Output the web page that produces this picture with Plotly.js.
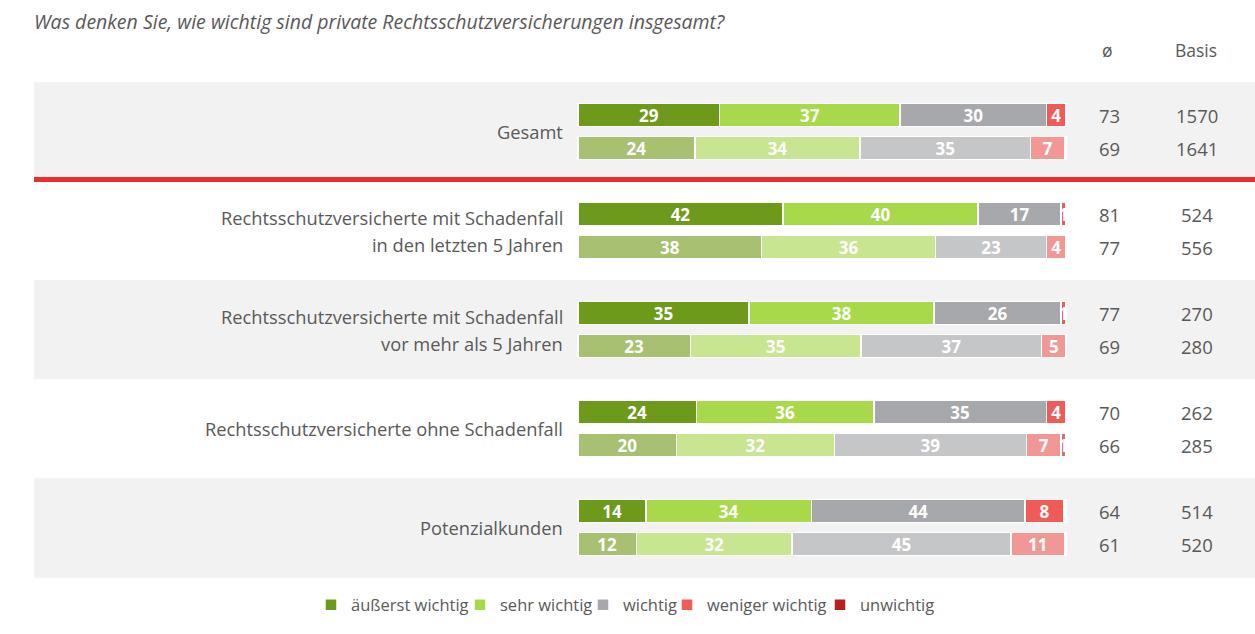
<!DOCTYPE html>
<html><head><meta charset="utf-8">
<script src="https://cdn.plot.ly/plotly-3.0.1.min.js"></script>
<style>body{margin:0;background:#fff;}#chart{width:1255px;height:634px;}</style>
</head><body><div id="chart"></div>
<script>
// ---- data ----
const titleText = "Was denken Sie, wie wichtig sind private Rechtsschutzversicherungen insgesamt?";
const groupLabels = [
  ["Gesamt"],
  ["Rechtsschutzversicherte mit Schadenfall", "in den letzten 5 Jahren"],
  ["Rechtsschutzversicherte mit Schadenfall", "vor mehr als 5 Jahren"],
  ["Rechtsschutzversicherte ohne Schadenfall"],
  ["Potenzialkunden"]
];
const seriesNames = ["äußerst wichtig", "sehr wichtig", "wichtig", "weniger wichtig", "unwichtig"];
// rows: group top, group bottom, ...
const aeusserst = [29, 24, 42, 38, 35, 23, 24, 20, 14, 12];
const sehr      = [37, 34, 40, 36, 38, 35, 36, 32, 34, 32];
const wichtig   = [30, 35, 17, 23, 26, 37, 35, 39, 44, 45];
const weniger   = [4, 7, 1, 4, 1, 5, 4, 7, 8, 11];
const unwichtig = [0, 0.3, 0, 0, 0, 0, 0, 1, 0.4, 0.3];
const avgValues = [73, 69, 81, 77, 77, 69, 70, 66, 64, 61];
const basisValues = [1570, 1641, 524, 556, 270, 280, 262, 285, 514, 520];
const headerAvg = "ø";
const headerBasis = "Basis";

// ---- styling ----
const darkColors  = ["#6e9a1c", "#a8d94b", "#a7a8ab", "#f05a57", "#b3211e"];
const lightColors = ["#a7c072", "#c8e592", "#c5c6c8", "#f19894", "#c97372"];
const textColor = "#595959";
const FONT = "'Open Sans', Lato, sans-serif";
// legend entry text starts (pixels) in the reference
const legendTextStartPx = [351, 500, 623, 707, 860];

const allSeries = [aeusserst, sehr, wichtig, weniger, unwichtig];
const nRows = aeusserst.length;
const yPos = [];
for (let i = 0; i < nRows; i++) yPos.push(Math.floor(i / 2) * 3 + (i % 2));

const legendIds = seriesNames.map((_, s) => s === 0 ? 'legend' : 'legend' + (s + 1));

const traces = allSeries.map((vals, s) => ({
  type: 'bar',
  orientation: 'h',
  name: seriesNames[s],
  legend: legendIds[s],
  x: vals,
  y: yPos,
  width: 0.7,
  marker: {
    color: yPos.map((_, i) => i % 2 ? lightColors[s] : darkColors[s]),
    line: {color: '#ffffff', width: 1.5}
  },
  text: vals.map(v => v >= 1 ? String(Math.round(v)) : ''),
  textposition: 'inside',
  insidetextanchor: 'middle',
  textangle: 0,
  constraintext: 'none',
  insidetextfont: {family: FONT, size: 17, color: '#ffffff', weight: 'bold'},
  hoverinfo: 'name+x'
}));

const annotations = [];
groupLabels.forEach((lines, g) => {
  const yc = g * 3 + 0.5;
  const n = lines.length;
  lines.forEach((ln, k) => {
    annotations.push({
      x: -2.66, y: yc, xref: 'x', yref: 'y', xanchor: 'right', yanchor: 'middle',
      text: ln, showarrow: false,
      yshift: ((n - 1) / 2 - k) * 27,
      font: {family: FONT, size: 18.3, color: textColor}
    });
  });
});
yPos.forEach((y, i) => {
  annotations.push({x: 109, y: y, xref: 'x', yref: 'y', text: String(avgValues[i]), showarrow: false,
    xanchor: 'center', yanchor: 'middle', font: {family: FONT, size: 18.5, color: textColor}});
  annotations.push({x: 126.8, y: y, xref: 'x', yref: 'y', text: String(basisValues[i]), showarrow: false,
    xanchor: 'center', yanchor: 'middle', font: {family: FONT, size: 18.5, color: textColor}});
});
annotations.push({x: 108.6, y: 1.0645, xref: 'x', yref: 'paper', text: headerAvg, showarrow: false,
  xanchor: 'center', yanchor: 'middle', font: {family: FONT, size: 17.5, color: textColor}});
annotations.push({x: 126.6, y: 1.0645, xref: 'x', yref: 'paper', text: headerBasis, showarrow: false,
  xanchor: 'center', yanchor: 'middle', font: {family: FONT, size: 17.5, color: textColor}});

const shapes = [
  {type: 'rect', xref: 'paper', yref: 'y', x0: 0, x1: 1, y0: -1, y1: 1.879, fillcolor: '#f2f2f2', line: {width: 0}, layer: 'below'},
  {type: 'rect', xref: 'paper', yref: 'y', x0: 0, x1: 1, y0: 1.879, y1: 2.03, fillcolor: '#ee2d2d', line: {width: 0}, layer: 'below'},
  {type: 'rect', xref: 'paper', yref: 'y', x0: 0, x1: 1, y0: 5, y1: 8, fillcolor: '#f2f2f2', line: {width: 0}, layer: 'below'},
  {type: 'rect', xref: 'paper', yref: 'y', x0: 0, x1: 1, y0: 11, y1: 14.03, fillcolor: '#f2f2f2', line: {width: 0}, layer: 'below'}
];

const layout = {
  width: 1255, height: 634,
  margin: {l: 34, r: 0, t: 82, b: 56, pad: 0},
  paper_bgcolor: '#ffffff', plot_bgcolor: '#ffffff',
  barmode: 'stack', barnorm: 'percent',
  title: {
    text: titleText, x: 0, xref: 'paper', xanchor: 'left',
    y: 1 - 22 / 634, yref: 'container', yanchor: 'middle',
    font: {family: FONT, size: 19.5, color: textColor, style: 'italic'}
  },
  xaxis: {range: [-111.48, 138.73], visible: false, fixedrange: true},
  yaxis: {range: [14.03, -1], visible: false, fixedrange: true},
  showlegend: true,
  shapes: shapes,
  annotations: annotations
};
legendIds.forEach((id, s) => {
  layout[id] = {
    orientation: 'h', x: (legendTextStartPx[s] - 40 - 34) / 1221, xanchor: 'left',
    y: -0.0544, yanchor: 'middle', bgcolor: 'rgba(0,0,0,0)',
    font: {family: FONT, size: 16.5, color: textColor},
    itemclick: false, itemdoubleclick: false
  };
});

Plotly.newPlot('chart', traces, layout, {displayModeBar: false});
</script>
</body></html>
